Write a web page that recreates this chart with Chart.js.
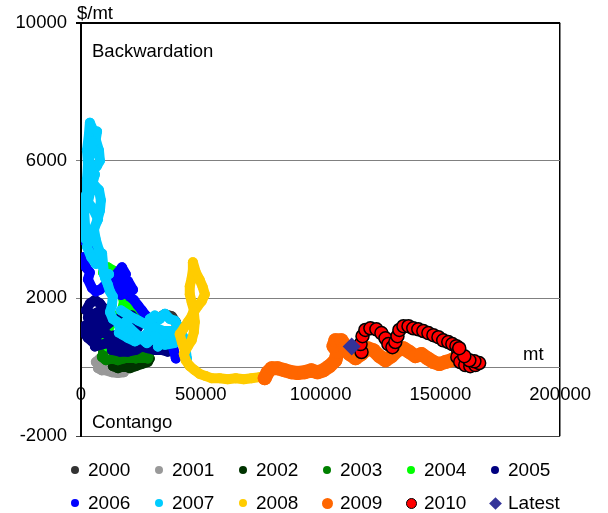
<!DOCTYPE html>
<html>
<head>
<meta charset="utf-8">
<script src="https://cdn.jsdelivr.net/npm/chart.js@4.4.1/dist/chart.umd.min.js"></script>
<style>
  body { margin: 0; background: #fff; font-family: "Liberation Sans", Arial, sans-serif; }
  #wrap { position: relative; width: 608px; height: 513px; }
  #leyenda .item { position: absolute; height: 24px; display: flex; align-items: center; font-size: 19px; color: #000; white-space: nowrap; }
  #leyenda .caja { width: 12px; height: 24px; display: flex; align-items: center; justify-content: center; margin-right: 7px; }
</style>
</head>
<body>
<div id="wrap">
  <canvas id="myChart" width="608" height="513"></canvas>
  <div id="leyenda"></div>
</div>
<script>
// Ejes
const xTicks = [0, 50000, 100000, 150000, 200000];
const yTicks = [-2000, 2000, 6000, 10000];

// Inventario (mt) y spread ($/mt) por año; null corta el trazo
const x2000 = [9200, 10400, 9600, null, 32100, 35000, 37900, 39600, 40400, 39600, 38700, 37100];
const y2000 = [610, 730, 490, null, 1420, 1540, 1480, 1310, 1080, 840, 670, 840];

const x2001 = [6200, 7900, 9600, 10400, 8700, 7100, 12900, 15400, 17900];
const y2001 = [150, 250, 200, 30, -90, -30, -150, -170, -150];

const x2002 = [13300, 15400, 17900, 20400, 22900, 25400, 27900, 28700, 27100, 24600, 22100, 18700, 16200];
const y2002 = [30, -30, 30, -30, 30, 90, 150, 250, 300, 200, 150, 150, 90];

const x2003 = [9200, 11200, 13700, 16200, 18700, 21200, 23700, 26200, 28700, 27900, 25400, 22900, 20400, 17900, 15400, 12900, 10400, 8700];
const y2003 = [450, 550, 600, 550, 600, 550, 600, 550, 450, 250, 300, 250, 300, 250, 200, 250, 200, 300];

const x2004 = [9200, 11200, 13700, 15400, 16200, 17100, 17900, 17100, 15400, 13700, 12100, 10400, 9600, 11200, 13700, 16200, 19600, 22900, 24600, 23700, 21200, 20400, 19600, 17900];
const y2004 = [2750, 2900, 2800, 2600, 2350, 2100, 1900, 1650, 1500, 1350, 1200, 1000, 800, 600, 650, 800, 900, 1100, 1300, 1550, 1700, 1950, 2200, 2400];

const x2005 = [2100, 3700, 5800, 7900, 9600, 8700, 6200, 3700, 1700, 1300, 2900, 4600, 6200, 7900, 10400, 12100, 14600, 17100, 19600, 21200, 22900, 23700, 22100, 19600, 17900, 15400, 12900, 16200, 19600, 22900, 25400, 27900, 30800, 33700, 36200,
  null, 3700, 7100, 10400, 7900, 4600, 2900, 5400, 9200, 12500, 15000, 18000, 21000, 24000, 21000, 17000, 14000, 11000, 8000, 5800];
const y2005 = [1650, 1850, 1950, 1850, 1700, 1500, 1350, 1300, 1200, 1000, 850, 750, 850, 1000, 1200, 1300, 1400, 1300, 1350, 1500, 1350, 1150, 950, 800, 600, 550, 500, 450, 450, 500, 600, 550, 500, 500, 450,
  null, 1500, 1600, 1450, 1200, 1050, 1450, 1350, 1000, 900, 950, 1000, 900, 750, 650, 750, 750, 700, 650, 600];

const x2006 = [800, 2500, 4600, 3300, 1300, 400, 2100, 3700, 2900, 4600, 6200, 7900, 9600, 11200, 12900, 14600, 15400, 17100, 18700, 17100, 18700, 20400, 22100, 23700, 25400, 27100, 28700, 31200, 32900, 35000, 37100, 37900, 38700, 39600,
  null, 15000, 19600, 21700, 16700, 14200];
const y2006 = [3700, 3600, 3350, 3150, 3200, 3050, 2900, 2750, 2550, 2300, 2200, 2250, 2350, 2450, 2550, 2600, 2750, 2900, 2700, 2450, 2250, 2050, 1950, 1800, 1650, 1500, 1300, 1150, 950, 850, 950, 750, 500, 250,
  null, 2400, 2500, 2250, 2100, 2250];

const x2007 = [2100, 1700, 1300, 2100, 2500, 2900, 2500, 3300, 3700, 5000, 6200, 7500, 7900, 6700, 5000, 3700, 5400, 7500, 8300, 7900, 6700, 5400, 6200, 7500, 7900, 9200, 10000, 11200, 12100, 13300, 12900, 12100, 13300, 15400, 16200, 17100, 19600, 22500, 25400, 27900, 29600, 28700, 30800, 32900, 35000, 37100, 39200, 40400, 38700, 36200, 33700, 32100, 35000, 41200, 42900, 43700, 44200,
  null, 5400, 6700, 4600, 3300, 5800, 4200, 2900, 5000, 7100, 4600, 2500, 4200, 6200, 8800, 9600, 11700,
  null, 16700, 20000, 24000, 27000, 31000, 34500, 38000, 41700, 39000, 35000, 31000, 27500, 24000, 20800, 18300, 15800];
const y2007 = [3700, 4100, 4550, 5000, 5450, 5900, 6300, 6750, 7100, 6900, 6600, 6300, 6000, 5850, 5700, 5450, 5300, 5150, 4850, 4550, 4250, 4000, 3700, 3400, 3100, 2900, 2600, 2400, 2200, 2050, 1800, 1600, 1400, 1300, 1150, 950, 850, 750, 850, 1000, 1200, 1400, 1500, 1400, 1550, 1400, 1350, 1200, 1000, 850, 750, 600, 800, 1100, 850, 500, 250,
  null, 6300, 6850, 6550, 6000, 5600, 5200, 4800, 4600, 4300, 3900, 3500, 3200, 3000, 3300, 2700, 2700,
  null, 1650, 1500, 1350, 1250, 1150, 1050, 1050, 900, 700, 650, 900, 700, 900, 1100, 1300, 1000];

const x2008 = [43300, 42100, 41200, 42900, 44600, 46200, 47100, 46200, 45400, 45400, 46200, 46700, 46700, 47900, 49600, 50800, 51700, 50400, 48700, 47100, 47500, 47100, 46200, 44600, 42900, 43700, 45400, 47500, 49600, 52100, 54600, 57900, 61200, 64600, 67900, 71200, 74600, 76700];
const y2008 = [500, 730, 960, 1130, 1310, 1480, 1660, 1890, 2120, 2350, 2590, 2820, 3050, 2760, 2530, 2330, 2120, 1920, 1770, 1600, 1310, 1020, 780, 610, 380, 200, 30, -90, -200, -260, -320, -320, -350, -320, -350, -320, -290, -320];

const x2009 = [76700, 77900, 79600, 82100, 85000, 87900, 90400, 93300, 96200, 98700, 101200, 103700, 106200, 107100, 105400, 106200, 108700, 110400, 112100, 114600, 117100, 119600, 122100, 124600, 127100, 129600, 132100, 134600, 137100, 139600, 142100, 144600, 147100, 149600, 152100, 154600, 156200];
const y2009 = [-320, -150, -30, -30, -90, -150, -170, -150, -90, -150, -90, 30, 200, 440, 610, 780, 780, 610, 380, 260, 380, 550, 490, 320, 200, 320, 490, 550, 440, 320, 380, 260, 150, 90, 150, 200, 260];

const x2010 = [117100, 116700, 117500, 118700, 120800, 123300, 125400, 127100, 128300, 130000, 131200, 132100, 132900, 134600, 136700, 138700, 140800, 142900, 145000, 147100, 149200, 151200, 153300, 155000, 156700, 157500, 157100, 158300, 160400, 162500, 164600, 166200, 164200, 162100, 160000, 157900];
const y2010 = [440, 670, 900, 1080, 1130, 1100, 990, 840, 670, 580, 730, 900, 1080, 1190, 1190, 1130, 1100, 1050, 990, 930, 870, 780, 730, 670, 610, 470, 290, 150, 60, 30, 60, 120, 170, 200, 320, 550];

const xLatest = [113000];
const yLatest = [600];

const etiquetas = ['2000', '2001', '2002', '2003', '2004', '2005', '2006', '2007', '2008', '2009', '2010', 'Latest'];
const colores = ['#333333', '#999999', '#003300', '#008000', '#00FF00', '#000080', '#0000FF', '#00CCFF', '#FFCC00', '#FF6600', '#FF0000', '#333399'];
const seriesX = [x2000, x2001, x2002, x2003, x2004, x2005, x2006, x2007, x2008, x2009, x2010, xLatest];
const seriesY = [y2000, y2001, y2002, y2003, y2004, y2005, y2006, y2007, y2008, y2009, y2010, yLatest];

function puntos(xs, ys) {
  return xs.map((x, i) => ({ x: x, y: ys[i] }));
}

Chart.defaults.font.family = '"Liberation Sans", Arial, sans-serif';
Chart.defaults.color = '#000';

const datasets = etiquetas.map((label, i) => {
  const ds = {
    label: label,
    data: puntos(seriesX[i], seriesY[i]),
    showLine: true,
    borderColor: colores[i],
    borderWidth: 10,
    borderCapStyle: 'round',
    borderJoinStyle: 'round',
    pointRadius: 5,
    pointBackgroundColor: colores[i],
    pointBorderWidth: 0,
    order: 20 - i
  };
  if (label === '2009') {
    ds.borderWidth = 14;
    ds.pointRadius = 7;
  }
  if (label === '2010') {
    ds.showLine = false;
    ds.pointRadius = 6.5;
    ds.pointBorderColor = '#000';
    ds.pointBorderWidth = 1.5;
  }
  if (label === 'Latest') {
    ds.showLine = false;
    ds.pointStyle = 'rectRot';
    ds.pointRadius = 9;
  }
  return ds;
});

// Textos sobre el gráfico
const textos = {
  id: 'textos',
  afterDraw(chart) {
    const ctx = chart.ctx;
    const area = chart.chartArea;
    const cero = chart.scales.y.getPixelForValue(0);
    ctx.save();
    ctx.font = '18.5px "Liberation Sans", Arial, sans-serif';
    ctx.fillStyle = '#000';
    ctx.textBaseline = 'middle';
    ctx.textAlign = 'left';
    ctx.fillText('$/mt', area.left - 4, 14);
    ctx.fillText('Backwardation', area.left + 11, area.top + 29);
    ctx.fillText('Contango', area.left + 11, area.bottom - 13);
    ctx.fillText('mt', 523, cero - 12);
    ctx.restore();
  }
};

const ctx = document.getElementById('myChart');
const grafico = new Chart(ctx, {
  type: 'scatter',
  data: { datasets: datasets },
  options: {
    responsive: false,
    animation: false,
    layout: { autoPadding: false, padding: { left: 0, right: 47, top: 23, bottom: 77 } },
    plugins: {
      legend: { display: false },
      tooltip: { enabled: false }
    },
    scales: {
      x: {
        type: 'linear',
        position: { y: 0 },
        min: 0,
        max: 200000,
        afterBuildTicks: s => { s.ticks = xTicks.map(v => ({ value: v })); },
        ticks: { padding: 17, font: { size: 18.5 }, color: '#000', autoSkip: false, maxRotation: 0, callback: v => String(v) },
        grid: {
          drawTicks: false,
          color: c => (c.tick && c.tick.value === 200000) ? '#000' : 'rgba(0,0,0,0)',
          lineWidth: 1.5
        },
        border: { display: true, color: '#808080', width: 1 }
      },
      y: {
        type: 'linear',
        position: 'left',
        min: -2000,
        max: 10000,
        afterBuildTicks: s => { s.ticks = yTicks.map(v => ({ value: v })); },
        afterFit: s => { s.width = 81; },
        ticks: { padding: 9, font: { size: 18.5 }, color: '#000', callback: v => String(v) },
        grid: {
          tickLength: 5,
          color: c => {
            if (!c.tick) return '#808080';
            if (c.tick.value === 10000) return '#000';
            if (c.tick.value === -2000) return '#444';
            return '#808080';
          },
          lineWidth: c => (c.tick && c.tick.value === 10000) ? 2 : 1
        },
        border: { color: '#000', width: 2 }
      }
    }
  },
  plugins: [textos]
});

// Leyenda en dos filas de seis
const leyenda = document.getElementById('leyenda');
grafico.data.datasets.forEach((ds, i) => {
  const item = document.createElement('div');
  item.className = 'item';
  item.style.left = (69 + (i % 6) * 84) + 'px';
  item.style.top = (i < 6 ? 458 : 491) + 'px';
  const caja = document.createElement('span');
  caja.className = 'caja';
  const marca = document.createElement('span');
  const tam = ds.pointRadius >= 5.5 ? 11 : 8;
  marca.style.display = 'block';
  marca.style.background = ds.pointBackgroundColor;
  if (ds.pointStyle === 'rectRot') {
    marca.style.width = '9px';
    marca.style.height = '9px';
    marca.style.transform = 'rotate(45deg)';
  } else {
    marca.style.width = tam + 'px';
    marca.style.height = tam + 'px';
    marca.style.borderRadius = '50%';
    if (ds.pointBorderWidth) {
      marca.style.boxSizing = 'border-box';
      marca.style.border = '1.5px solid #000';
    }
  }
  caja.appendChild(marca);
  const texto = document.createElement('span');
  texto.textContent = ds.label;
  item.appendChild(caja);
  item.appendChild(texto);
  leyenda.appendChild(item);
});
</script>
</body>
</html>
